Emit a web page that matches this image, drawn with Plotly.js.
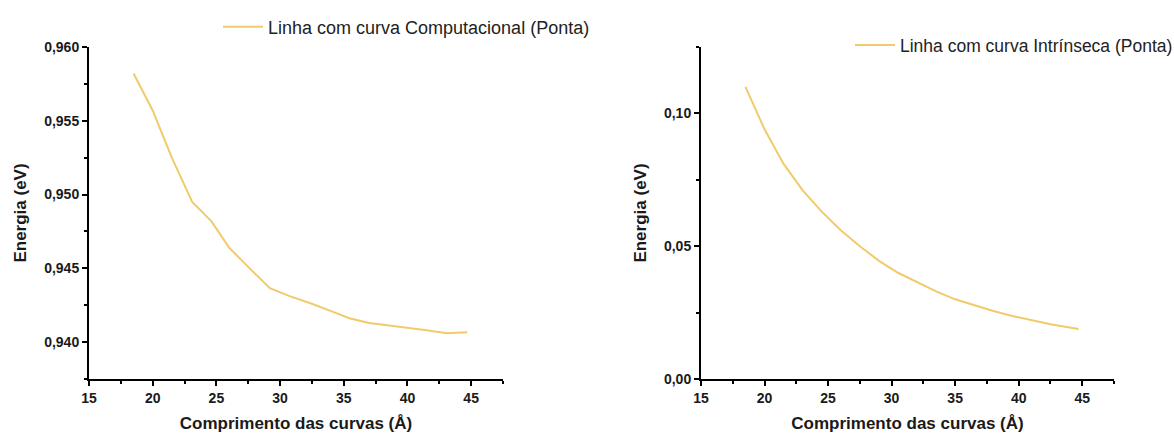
<!DOCTYPE html>
<html>
<head>
<meta charset="utf-8">
<script src="https://cdn.plot.ly/plotly-3.0.1.min.js"></script>
<style>html,body{margin:0;padding:0;background:#fff;overflow:hidden;}#chart{width:1174px;height:433px;}</style>
</head>
<body>
<div id="chart"></div>
<script>
// Left panel: Computacional (Ponta)
const compX = [18.5, 20.0, 21.5, 23.1, 24.6, 26.0, 27.5, 29.2, 30.8, 32.5, 34.0, 35.5, 37.0, 38.5, 40.0, 41.5, 43.1, 44.7];
const compY = [0.9582, 0.9557, 0.9525, 0.9495, 0.9482, 0.9464, 0.9451, 0.94365, 0.9431, 0.9426, 0.9421, 0.9416, 0.9413, 0.94115, 0.9410, 0.9408, 0.9406, 0.94067];
// Right panel: Intrinseca (Ponta)
const intrX = [18.5, 20.0, 21.5, 23.0, 24.5, 26.0, 27.5, 29.0, 30.5, 32.0, 33.5, 35.0, 36.5, 38.0, 39.5, 41.0, 42.5, 44.7];
const intrY = [0.110, 0.094, 0.081, 0.071, 0.063, 0.056, 0.050, 0.0445, 0.040, 0.0365, 0.033, 0.030, 0.0278, 0.0256, 0.0237, 0.0221, 0.0206, 0.0188];

const nameComp = 'Linha com curva Computacional (Ponta)';
const nameIntr = 'Linha com curva Intrínseca (Ponta)';
const xTitle = 'Comprimento das curvas (Å)';
const yTitle = 'Energia (eV)';

const lineColor = '#F1CA6C';
const FONT = 'Liberation Sans, Arial, sans-serif';

const traces = [
  {x: compX, y: compY, type: 'scatter', mode: 'lines', name: nameComp,
   line: {color: lineColor, width: 2}, xaxis: 'x', yaxis: 'y', legend: 'legend'},
  {x: intrX, y: intrY, type: 'scatter', mode: 'lines', name: nameIntr,
   line: {color: lineColor, width: 2}, xaxis: 'x2', yaxis: 'y2', legend: 'legend2'}
];

function xax(domain, anchor) {
  return {
    domain: domain, anchor: anchor, range: [15, 47.5], tick0: 15, dtick: 5,
    showline: true, linecolor: '#000', linewidth: 2, mirror: false,
    ticks: 'outside', ticklen: 5, tickwidth: 2, tickcolor: '#000',
    minor: {ticks: 'outside', ticklen: 3, tickwidth: 2, tickcolor: '#000', dtick: 2.5, tick0: 15},
    showgrid: false, zeroline: false, automargin: false,
    tickfont: {family: FONT, size: 14, color: '#1a1a1a', weight: 'bold'},
    title: {text: xTitle, standoff: 20, font: {family: FONT, size: 17, color: '#1a1a1a', weight: 'bold'}}
  };
}
function yax(domain, anchor, range, dtick, fmt) {
  return {
    domain: domain, anchor: anchor, range: range, tick0: 0, dtick: dtick, tickformat: fmt,
    showline: true, linecolor: '#000', linewidth: 2, mirror: false,
    ticks: 'outside', ticklen: 5, tickwidth: 2, tickcolor: '#000',
    minor: {ticks: 'outside', ticklen: 3, tickwidth: 2, tickcolor: '#000', dtick: dtick / 2},
    showgrid: false, zeroline: false, automargin: false,
    tickfont: {family: FONT, size: 14, color: '#1a1a1a', weight: 'bold'},
    title: {text: yTitle, standoff: 13, font: {family: FONT, size: 17, color: '#1a1a1a', weight: 'bold'}}
  };
}

const yDom = [54/433, 386/433];
const layout = {
  width: 1174, height: 433,
  margin: {l: 0, r: 0, t: 0, b: 0, autoexpand: false},
  paper_bgcolor: '#fff', plot_bgcolor: '#fff',
  separators: ', ',
  font: {family: FONT},
  xaxis: xax([89/1174, 503/1174], 'y'),
  yaxis: yax(yDom, 'x', [0.9375, 0.960], 0.005, '.3f'),
  xaxis2: xax([701/1174, 1114/1174], 'y2'),
  yaxis2: yax(yDom, 'x2', [0, 0.125], 0.05, '.2f'),
  showlegend: true,
  legend: {x: 218/1174, y: 1 - 27/433, xanchor: 'left', yanchor: 'middle', bgcolor: 'rgba(0,0,0,0)',
           itemwidth: 40, font: {family: FONT, size: 18, color: '#222'}},
  legend2: {x: 850/1174, y: 1 - 45/433, xanchor: 'left', yanchor: 'middle', bgcolor: 'rgba(0,0,0,0)',
           itemwidth: 40, font: {family: FONT, size: 17.5, color: '#222'}}
};

Plotly.newPlot('chart', traces, layout, {displayModeBar: false, staticPlot: true});
</script>
</body>
</html>
